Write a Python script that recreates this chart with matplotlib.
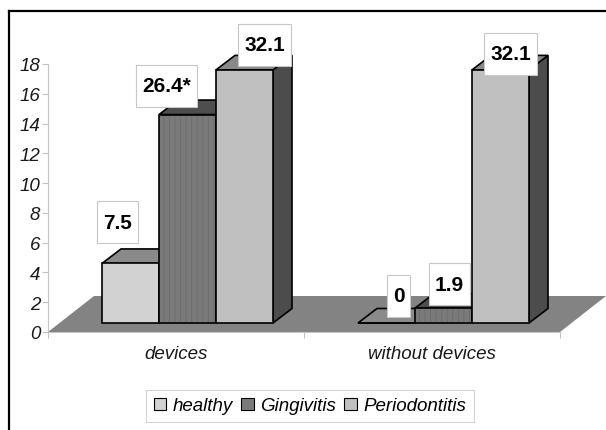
import matplotlib
matplotlib.use('Agg')
import matplotlib.pyplot as plt
from matplotlib.patches import Polygon, Rectangle
from matplotlib.lines import Line2D
from matplotlib.transforms import IdentityTransform

plt.rcParams['font.family'] = ['Liberation Sans', 'DejaVu Sans']
plt.rcParams['hatch.linewidth'] = 0.6

# ---------------- data ----------------
categories = ['devices', 'without devices']
series = ['healthy', 'Gingivitis', 'Periodontitis']
healthy = [4, 0]
gingivitis = [14, 1]
periodontitis = [17, 17]
labels_healthy = ['7.5', '0']
labels_gingivitis = ['26.4*', '1.9']
labels_periodontitis = ['32.1', '32.1']
yticks = [0, 2, 4, 6, 8, 10, 12, 14, 16, 18]

# ---------------- style ----------------
front_colors = ['#d2d2d2', '#7a7a7a', '#c0c0c0']
top_colors = ['#8a8a8a', '#4e4e4e', '#888888']
side_colors = ['#666666', '#404040', '#4c4c4c']
floor_color = '#838383'
# label offsets in pixels (dx, dy) from bar front-top centre
label_offsets = [[(-13, 41), (-21, 29), (20, 25)],
                 [(12, 27), (6, 24), (10, 16)]]

W, H = 606, 431
fig = plt.figure(figsize=(W / 100, H / 100), dpi=100)
ax_l, ax_r, ax_b, ax_t = 48, 560, 333, 65   # pixel positions (from top-left)
ax = fig.add_axes([ax_l / W, (H - ax_b) / H, (ax_r - ax_l) / W, (ax_b - ax_t) / H])
ax.set_xlim(0, 2)
ax.set_ylim(0, 18)
pxx = (ax_r - ax_l) / 2.0
pxy = (ax_b - ax_t) / 18.0

# depth vectors (pixels -> data)
fl_dx, fl_dy = 46 / pxx, 36 / pxy
off_dx, off_dy = 11.5 / pxx, 9 / pxy
bd_dx, bd_dy = 19 / pxx, 14.5 / pxy
bw = 57 / pxx
lw = 1.2

# floor
floor = Polygon([(0, 0), (2, 0), (2 + fl_dx, fl_dy), (fl_dx, fl_dy)], closed=True,
                facecolor=floor_color, edgecolor='none', zorder=1, clip_on=False)
ax.add_patch(floor)

data = [healthy, gingivitis, periodontitis]
labs = [labels_healthy, labels_gingivitis, labels_periodontitis]
annots = []
z = 2.0
for c in range(len(categories)):
    centre = c + 0.5
    for i in range(3):
        v = data[i][c]
        x0 = centre + (i - 1.5) * bw + off_dx
        b = off_dy
        t = b + v
        side = Polygon([(x0 + bw, b), (x0 + bw, t), (x0 + bw + bd_dx, t + bd_dy),
                        (x0 + bw + bd_dx, b + bd_dy)], closed=True,
                       facecolor=side_colors[i], edgecolor='black', lw=lw, zorder=z, clip_on=False)
        top = Polygon([(x0, t), (x0 + bw, t), (x0 + bw + bd_dx, t + bd_dy), (x0 + bd_dx, t + bd_dy)],
                      closed=True, facecolor=top_colors[i], edgecolor='black', lw=lw,
                      zorder=z + 0.01, clip_on=False)
        ax.add_patch(side)
        ax.add_patch(top)
        if i == 1:
            ax.bar(x0, v, width=bw, bottom=b, align='edge', color=front_colors[i],
                   hatch='|||', edgecolor='#6c6c6c', linewidth=0, zorder=z + 0.02, clip_on=False)
            ax.bar(x0, v, width=bw, bottom=b, align='edge', fill=False,
                   edgecolor='black', linewidth=lw, zorder=z + 0.03, clip_on=False)
        else:
            ax.bar(x0, v, width=bw, bottom=b, align='edge', color=front_colors[i],
                   edgecolor='black', linewidth=lw, zorder=z + 0.02, clip_on=False)
        dx, dy = label_offsets[c][i]
        a = ax.annotate(labs[i][c], xy=(x0 + bw / 2, t), xytext=(dx, dy),
                        textcoords='offset pixels', ha='center', va='center',
                        fontsize=15, fontweight='bold', color='black', zorder=20,
                        annotation_clip=False)
        annots.append(a)
        z += 0.1

# axes styling
for s in ['top', 'right']:
    ax.spines[s].set_visible(False)
ax.spines['left'].set_color('#c4c4c4')
ax.spines['bottom'].set_color('#c4c4c4')
ax.spines['left'].set_linewidth(0.8)
ax.spines['bottom'].set_linewidth(0.8)
ax.set_yticks(yticks)
ax.set_yticklabels([str(v) for v in yticks], fontsize=13.5, fontstyle='italic', color='#1a1a1a')
ax.tick_params(axis='y', length=4, color='#c4c4c4', pad=1.5)
ax.set_xticks([0, 1, 2])
ax.set_xticklabels(['', '', ''])
ax.tick_params(axis='x', length=4, color='#c4c4c4')
for c, name in enumerate(categories):
    ax.text(c + 0.5, -22 / pxy, name, ha='center', va='center', fontsize=13.5,
            fontstyle='italic', color='#1a1a1a', clip_on=False)

# legend
handles = [Rectangle((0, 0), 1, 1, facecolor=front_colors[i], edgecolor='black', lw=0.8)
           for i in range(3)]
leg = fig.legend(handles, series, loc='center', bbox_to_anchor=(310 / W, 1 - 407 / H),
                 ncol=3, frameon=True, fancybox=False, prop={'style': 'italic', 'size': 13.5},
                 handlelength=0.65, handleheight=0.65, columnspacing=0.45, handletextpad=0.35,
                 borderpad=0.4, edgecolor='#c8c8c8')
leg.get_frame().set_linewidth(0.8)

# outer frame (left and top edges)
fig.add_artist(Line2D([8.5 / W, 8.5 / W], [0, 1 - 12 / H], transform=fig.transFigure,
                      color='black', lw=1.6))
fig.add_artist(Line2D([8.5 / W, 1], [1 - 12 / H, 1 - 12 / H], transform=fig.transFigure,
                      color='black', lw=1.6))

# white label boxes
fig.canvas.draw()
r = fig.canvas.get_renderer()
for a in annots:
    bb = a.get_window_extent(r)
    cx = (bb.x0 + bb.x1) / 2
    cy = (bb.y0 + bb.y1) / 2
    w = bb.width + 12
    h = 42
    rect = Rectangle((cx - w / 2, cy - h / 2), w, h, transform=IdentityTransform(),
                     facecolor='white', edgecolor='#c8c8c8', lw=0.8, zorder=19, clip_on=False)
    ax.add_patch(rect)

fig.savefig('out.png', dpi=100)
